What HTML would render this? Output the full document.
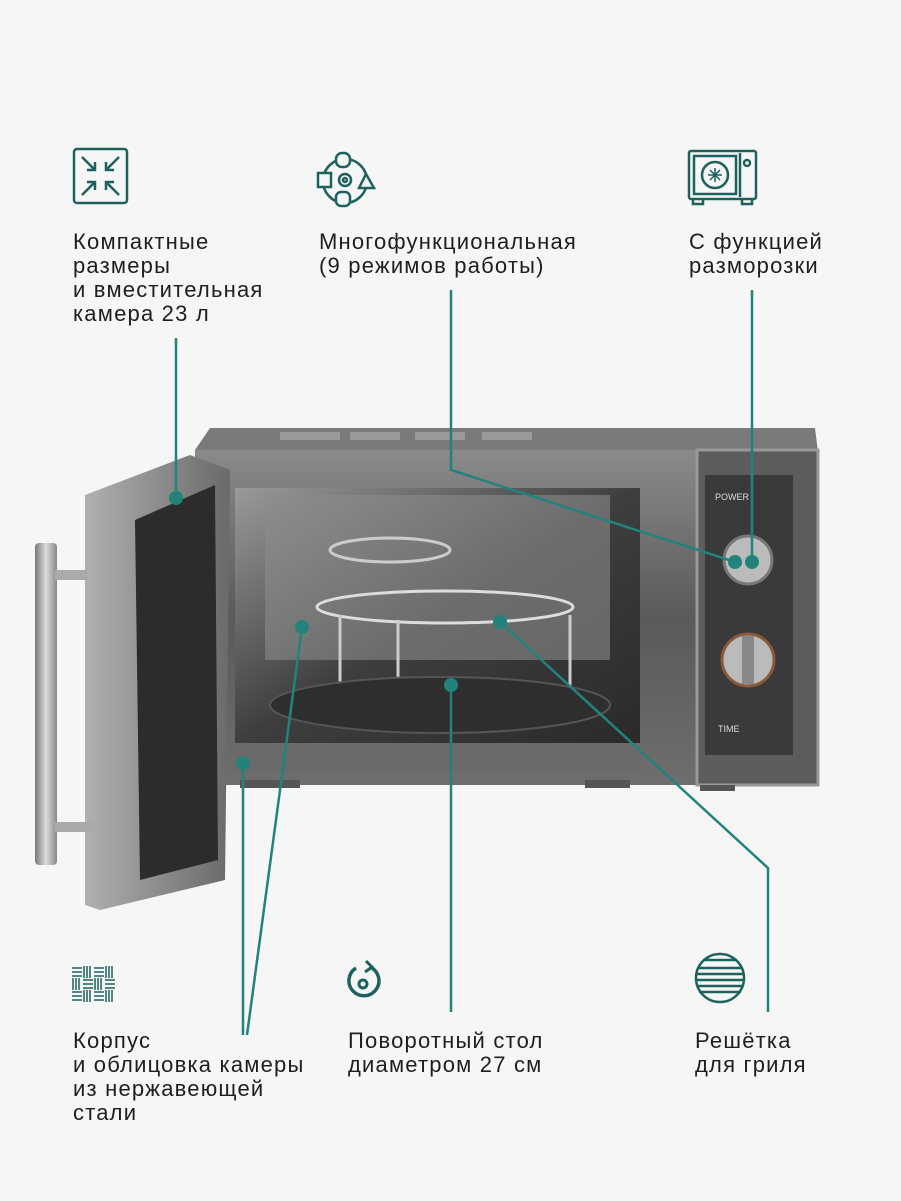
<!DOCTYPE html>
<html><head><meta charset="utf-8"><style>
html,body{margin:0;padding:0;background:#f6f6f6;}
svg{display:block}
text{font-family:"Liberation Sans",sans-serif;font-size:22px;letter-spacing:1.2px;fill:#1e1e1e;}
</style></head><body>
<svg width="901" height="1201" viewBox="0 0 901 1201" xmlns="http://www.w3.org/2000/svg">
<defs>
<linearGradient id="body" x1="0" y1="0" x2="0" y2="1"><stop offset="0" stop-color="#8a8a8a"/><stop offset="0.5" stop-color="#5a5a5a"/><stop offset="1" stop-color="#6e6e6e"/></linearGradient>
<linearGradient id="inner" x1="0" y1="0" x2="1" y2="1"><stop offset="0" stop-color="#9a9a9a"/><stop offset="0.5" stop-color="#3e3e3e"/><stop offset="1" stop-color="#2a2a2a"/></linearGradient>
<linearGradient id="door" x1="0" y1="0" x2="1" y2="0"><stop offset="0" stop-color="#b0b0b0"/><stop offset="1" stop-color="#6a6a6a"/></linearGradient>
<linearGradient id="handle" x1="0" y1="0" x2="1" y2="0"><stop offset="0" stop-color="#777"/><stop offset="0.5" stop-color="#ddd"/><stop offset="1" stop-color="#888"/></linearGradient>
</defs>
<rect width="901" height="1201" fill="#f6f6f6"/>

<polygon points="195,450 210,428 815,428 818,452" fill="#7a7a7a"/>
<rect x="280" y="432" width="60" height="8" fill="#999"/><rect x="350" y="432" width="50" height="8" fill="#999"/><rect x="415" y="432" width="50" height="8" fill="#999"/><rect x="482" y="432" width="50" height="8" fill="#999"/>
<rect x="195" y="450" width="505" height="335" fill="url(#body)"/>
<rect x="697" y="450" width="121" height="335" fill="#5c5c5c" stroke="#999" stroke-width="3"/>
<rect x="705" y="475" width="88" height="280" fill="#3a3a3a"/>
<rect x="235" y="488" width="405" height="255" fill="url(#inner)"/>
<rect x="265" y="495" width="345" height="165" fill="#8c8c8c" opacity="0.6"/>
<rect x="235" y="743" width="405" height="30" fill="#6a6a6a"/>
<ellipse cx="390" cy="550" rx="60" ry="12" fill="none" stroke="#ccc" stroke-width="3"/>
<ellipse cx="445" cy="607" rx="128" ry="16" fill="none" stroke="#ddd" stroke-width="3"/>
<line x1="340" y1="615" x2="340" y2="710" stroke="#ccc" stroke-width="3"/>
<line x1="398" y1="620" x2="398" y2="690" stroke="#ccc" stroke-width="3"/>
<line x1="570" y1="615" x2="570" y2="700" stroke="#ccc" stroke-width="3"/>
<ellipse cx="440" cy="705" rx="170" ry="28" fill="#2e2e2e" stroke="#555" stroke-width="2"/>
<circle cx="748" cy="560" r="24" fill="#bbb" stroke="#777" stroke-width="3"/>
<circle cx="748" cy="660" r="26" fill="#bbb" stroke="#8a5a3a" stroke-width="3"/>
<rect x="742" y="636" width="12" height="48" fill="#888"/>
<text x="715" y="500" style="font-size:9px;letter-spacing:0;fill:#ddd">POWER</text>
<text x="718" y="732" style="font-size:9px;letter-spacing:0;fill:#ddd">TIME</text>
<polygon points="85,495 190,455 230,470 225,880 100,910 85,905" fill="url(#door)"/>
<polygon points="135,520 215,485 218,860 140,880" fill="#2c2c2c"/>
<rect x="35" y="543" width="22" height="322" rx="4" fill="url(#handle)"/>
<rect x="55" y="570" width="32" height="10" fill="#aaa"/><rect x="55" y="822" width="40" height="10" fill="#aaa"/>
<rect x="240" y="780" width="60" height="8" fill="#555"/><rect x="585" y="780" width="45" height="8" fill="#555"/><rect x="700" y="785" width="35" height="6" fill="#555"/>

<g stroke="#22837d" stroke-width="2.5" fill="none">
<polyline points="176,338 176,498"/>
<polyline points="451,290 451,470 735,562"/>
<polyline points="752,290 752,562"/>
<polyline points="243,1035 243,763"/>
<polyline points="247,1035 302,627"/>
<polyline points="451,1012 451,685"/>
<polyline points="768,1012 768,868 500,622"/>
</g>
<g fill="#22837d">
<circle cx="176" cy="498" r="7"/><circle cx="735" cy="562" r="7"/><circle cx="752" cy="562" r="7"/>
<circle cx="243" cy="763" r="7"/><circle cx="302" cy="627" r="7"/><circle cx="451" cy="685" r="7"/><circle cx="500" cy="622" r="7"/>
</g>

<g stroke="#1d625d" stroke-width="2.5" fill="none">
<rect x="74" y="149" width="53" height="54" rx="3"/>
<path d="M82,157 L95,170 M95,162 L95,170 L87,170 M119,157 L106,170 M106,162 L106,170 L114,170 M82,195 L95,182 M87,182 L95,182 L95,190 M119,195 L106,182 M114,182 L106,182 L106,190"/>
<circle cx="345" cy="181" r="22"/>
<rect x="336" y="153" width="14" height="14" rx="6" fill="#f6f6f6"/>
<rect x="336" y="192" width="14" height="14" rx="5" fill="#f6f6f6"/>
<rect x="318" y="173" width="13" height="14" fill="#f6f6f6"/>
<polygon points="366,174 359,188 374,188" fill="#f6f6f6"/>
<circle cx="345" cy="180" r="6"/><circle cx="345" cy="180" r="2"/>
<rect x="689" y="151" width="67" height="48" rx="2"/>
<rect x="694" y="156" width="42" height="38"/>
<line x1="740" y1="153" x2="740" y2="197"/>
<circle cx="747" cy="163" r="3"/>
<circle cx="715" cy="175" r="13"/>
<path d="M708,175 h14 M715,168 v14 M710,170 l10,10 M720,170 l-10,10" stroke-width="1.5"/>
<path d="M693,199 v5 h10 v-5 M742,199 v5 h10 v-5"/>
<path d="M356,968 A15,15 0 1 0 370,967" stroke-width="3.5"/>
<path d="M366,961 L372,967 L365,972" stroke-width="3"/>
<circle cx="363" cy="984" r="4" stroke-width="3"/>
<ellipse cx="720" cy="978" rx="24" ry="24"/>
<path d="M698,968 h44 M697,974 h46 M697,980 h46 M697,986 h46 M699,992 h42 M703,960 h34"/>
</g>
<g stroke="#1d625d" stroke-width="1.5">
<path d="M72,968h10M72,972h10M72,976h10 M94,968h10M94,972h10M94,976h10 M84,966v12M87,966v12M90,966v12 M106,966v12M109,966v12M112,966v12
M73,978v12M76,978v12M79,978v12 M95,978v12M98,978v12M101,978v12 M83,980h10M83,984h10M83,988h10 M105,980h10M105,984h10M105,988h10
M72,992h10M72,996h10M72,1000h10 M94,992h10M94,996h10M94,1000h10 M84,990v12M87,990v12M90,990v12 M106,990v12M109,990v12M112,990v12"/>
</g>

<text x="73" y="249">Компактные</text>
<text x="73" y="273">размеры</text>
<text x="73" y="297">и вместительная</text>
<text x="73" y="321">камера 23 л</text>
<text x="319" y="249">Многофункциональная</text>
<text x="319" y="273">(9 режимов работы)</text>
<text x="689" y="249">С функцией</text>
<text x="689" y="273">разморозки</text>
<text x="73" y="1048">Корпус</text>
<text x="73" y="1072">и облицовка камеры</text>
<text x="73" y="1096">из нержавеющей</text>
<text x="73" y="1120">стали</text>
<text x="348" y="1048">Поворотный стол</text>
<text x="348" y="1072">диаметром 27 см</text>
<text x="695" y="1048">Решётка</text>
<text x="695" y="1072">для гриля</text>
</svg>
</body></html>
